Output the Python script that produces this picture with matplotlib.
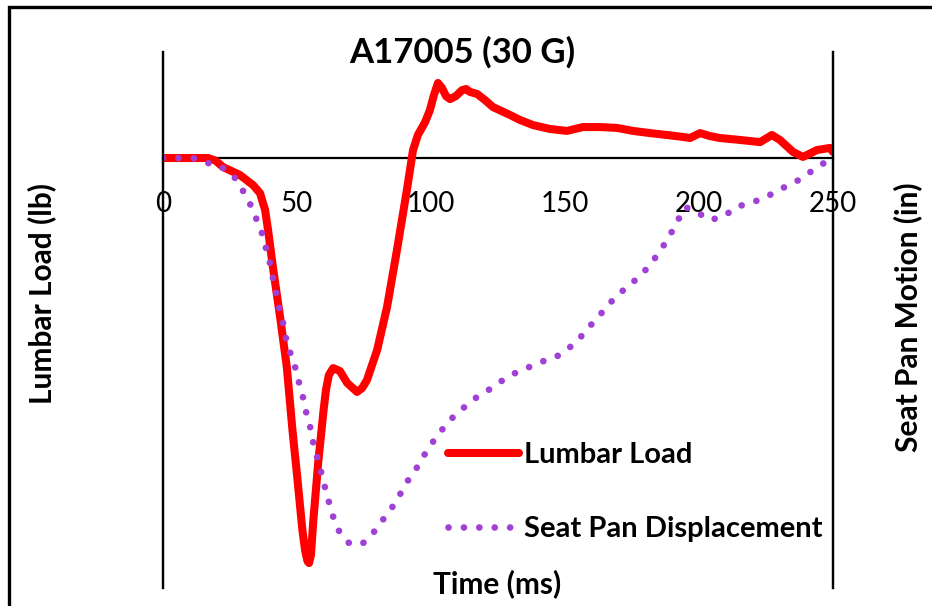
import matplotlib
matplotlib.use("Agg")
import matplotlib.pyplot as plt
from matplotlib.patches import Rectangle

plt.rcParams['font.family'] = ['Lato', 'DejaVu Sans']

# Lumbar load (lb) vs time (ms)
load_t = [0, 11.9, 16.8, 19.6, 22.4, 28.7, 33.6, 36.2, 38.1, 39.2, 41.0, 43.7, 46.2, 48.3,
          50.2, 52.0, 53.0, 53.9, 54.5, 55.2, 56.1, 57.9, 59.8, 60.8, 61.9, 63.5, 66.0,
          68.7, 72.4, 74.3, 76.1, 79.9, 83.6, 87.3, 91.0, 93.3, 95.1, 97.8, 99.6, 101.1,
          102.6, 104.1, 105.6, 107.1, 109.3, 111.6, 113.1, 114.6, 117.2, 120.1, 123.1, 129.5,
          133.2, 138.1, 144.4, 150.7, 156.7, 163.1, 169.4, 175.4, 181.7, 188.1, 194.0, 196.6,
          200.4, 204.1, 207.8, 215.3, 222.8, 227.2, 230.2, 235.1, 238.8, 244.0, 248.9, 250]
load_lb = [0, 0, 0, -12, -42, -79, -126, -163, -242, -335, -507, -740, -972, -1265,
           -1498, -1730, -1823, -1875, -1884, -1847, -1684, -1419, -1186, -1079, -1009,
           -977, -991, -1046, -1088, -1070, -1033, -893, -693, -428, -149, 37, 107, 167, 223,
           293, 349, 326, 288, 274, 288, 316, 321, 307, 298, 270, 237, 200, 177, 153, 135,
           126, 144, 144, 140, 126, 116, 107, 98, 93, 116, 102, 93, 84, 74, 107, 84, 28, 5,
           37, 47, 28]

# Seat pan displacement (in) vs time (ms)
seat_t = [0, 5.6, 11.2, 16.8, 22.4, 26.9, 29.9, 32.5, 34.7, 36.9, 38.4, 39.9, 41.0, 42.2,
          43.3, 44.8, 45.9, 47.4, 49.3, 50.7, 52.2, 53.4, 54.9, 56.0, 57.5, 59.0, 60.4, 61.9,
          63.4, 65.7, 69.4, 74.3, 78.4, 81.7, 85.1, 88.1, 91.0, 94.4, 97.0, 100.4, 103.7,
          107.5, 111.6, 116.0, 120.9, 125.7, 130.6, 135.8, 141.0, 146.6, 151.1, 155.2, 159.0,
          162.7, 166.4, 170.5, 175.0, 179.1, 182.8, 186.2, 189.2, 191.8, 194.8, 199.3, 203.7,
          209.0, 213.8, 219.0, 224.6, 229.5, 234.7, 239.6, 244.0, 250]
seat_in = [0, 0, 0, -0.058, -0.116, -0.233, -0.384, -0.535, -0.698, -0.872, -1.047, -1.221,
           -1.395, -1.570, -1.733, -1.919, -2.093, -2.256, -2.430, -2.605, -2.779, -2.954,
           -3.128, -3.303, -3.477, -3.651, -3.826, -4.000, -4.163, -4.338, -4.477, -4.489,
           -4.361, -4.221, -4.082, -3.931, -3.768, -3.617, -3.477, -3.314, -3.175, -3.035,
           -2.919, -2.803, -2.710, -2.605, -2.512, -2.442, -2.372, -2.314, -2.221, -2.105,
           -1.965, -1.837, -1.698, -1.570, -1.454, -1.337, -1.198, -1.047, -0.895, -0.744,
           -0.570, -0.628, -0.721, -0.686, -0.570, -0.523, -0.465, -0.372, -0.302, -0.209,
           -0.105, 0]

xticks = [0, 50, 100, 150, 200, 250]

W, H = 932, 606
fig = plt.figure(figsize=(W / 100, H / 100), dpi=100)
ax = fig.add_axes([163 / W, 1 - 588 / H, 670 / W, 536 / H])
ax2 = ax.twinx()

ax.plot(load_t, load_lb, color='#FF0000', lw=5.8, solid_capstyle='round',
        solid_joinstyle='round', label='Lumbar Load', zorder=3)
ax2.plot(seat_t, seat_in, color='#A040D4', lw=4.8, linestyle=(0, (0.01, 2.3)),
         dash_capstyle='round', label='Seat Pan Displacement')

ax.set_xlim(0, 250)
ax.set_ylim(-2000, 493.1)
ax2.set_ylim(-5, 1.233)

for a in (ax, ax2):
    a.spines['top'].set_visible(False)
    a.spines['left'].set_linewidth(1.6)
    a.spines['right'].set_linewidth(1.6)
    a.set_yticks([])
ax2.spines['bottom'].set_visible(False)
ax.spines['bottom'].set_position(('data', 0))
ax.spines['bottom'].set_linewidth(1.6)
ax.set_xticks(xticks)
ax.tick_params(axis='x', length=0, pad=24, labelsize=20)

fig.text(462 / W, 1 - 52 / H, 'A17005 (30 G)', ha='center', va='center',
         fontsize=25, fontweight='bold')
fig.text(497 / W, 1 - 584 / H, 'Time (ms)', ha='center', va='center',
         fontsize=21.5, fontweight='bold')
fig.text(42 / W, 1 - 293 / H, 'Lumbar Load (lb)', ha='center', va='center',
         rotation=90, fontsize=21.5, fontweight='bold')
fig.text(908 / W, 1 - 317 / H, 'Seat Pan Motion (in)', ha='center', va='center',
         rotation=90, fontsize=21.5, fontweight='bold')

h1, l1 = ax.get_legend_handles_labels()
h2, l2 = ax2.get_legend_handles_labels()
leg = ax2.legend(h1 + h2, l1 + l2, loc='center left',
                 bbox_to_anchor=(422 / W, 1 - 492 / H), bbox_transform=fig.transFigure,
                 frameon=False, handlelength=2.43, handletextpad=0.17, labelspacing=1.63,
                 prop={'size': 21, 'weight': 'bold'})

fig.add_artist(Rectangle((9 / W, -0.1), 1.0, 1.1 - 7 / H, transform=fig.transFigure,
                         fill=False, lw=2.4, edgecolor='black'))

fig.savefig('out.png', dpi=100)
